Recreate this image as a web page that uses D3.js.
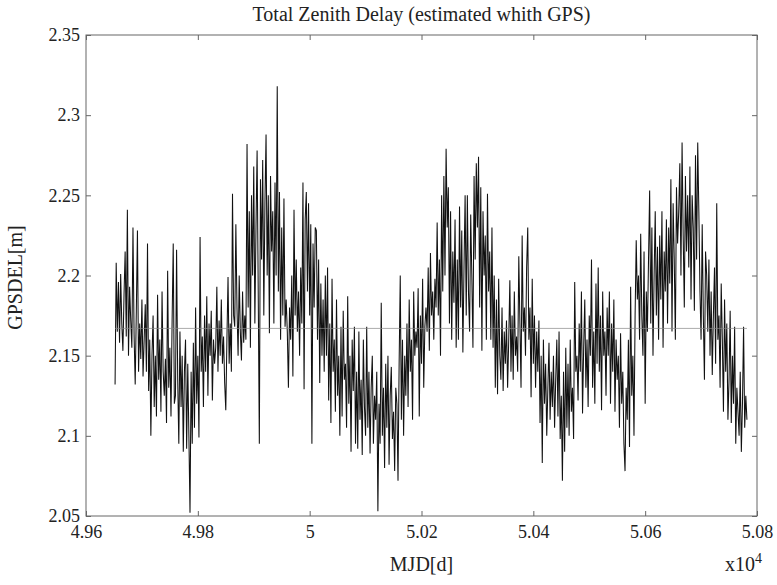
<!DOCTYPE html>
<html>
<head>
<meta charset="utf-8">
<script src="https://cdn.jsdelivr.net/npm/d3@7"></script>
<style>
  html, body { margin: 0; padding: 0; background: #fff; }
  svg { display: block; }
  text { font-family: "Liberation Serif", "DejaVu Serif", serif; fill: #222; }
</style>
</head>
<body>
<svg id="chart" width="777" height="585"></svg>
<script>
// ---- data ----
const mjdStart = 49652;   // first sample, MJD
const mjdStep = 2;        // days between samples
const gpsdel = [
  2.132,2.208,2.165,2.196,2.158,2.201,2.170,2.153,2.188,
  2.215,2.162,2.241,2.150,2.193,2.172,2.155,2.230,2.163,
  2.132,2.178,2.228,2.140,2.170,2.148,2.185,2.137,2.160,
  2.182,2.140,2.220,2.128,2.160,2.100,2.150,2.175,2.118,
  2.150,2.112,2.188,2.135,2.160,2.115,2.190,2.140,2.125,
  2.148,2.108,2.203,2.130,2.155,2.112,2.172,2.220,2.120,
  2.125,2.216,2.135,2.095,2.165,2.118,2.150,2.090,2.140,
  2.160,2.092,2.145,2.100,2.052,2.140,2.095,2.158,2.105,
  2.180,2.120,2.150,2.099,2.224,2.140,2.162,2.118,2.175,
  2.140,2.187,2.125,2.170,2.150,2.178,2.122,2.160,2.145,
  2.155,2.193,2.140,2.172,2.150,2.185,2.145,2.162,2.133,
  2.116,2.160,2.199,2.145,2.170,2.140,2.251,2.175,2.168,
  2.232,2.180,2.150,2.200,2.165,2.147,2.190,2.158,2.175,
  2.160,2.282,2.180,2.240,2.155,2.250,2.200,2.268,2.170,
  2.230,2.278,2.190,2.095,2.260,2.210,2.272,2.175,2.245,
  2.288,2.200,2.250,2.164,2.262,2.215,2.240,2.170,2.258,
  2.200,2.318,2.190,2.252,2.160,2.230,2.175,2.248,2.168,
  2.185,2.165,2.130,2.180,2.160,2.200,2.137,2.241,2.175,
  2.210,2.165,2.190,2.150,2.205,2.170,2.258,2.129,2.235,
  2.252,2.190,2.245,2.175,2.232,2.095,2.220,2.180,2.230,
  2.228,2.160,2.210,2.133,2.195,2.150,2.185,2.140,2.200,
  2.150,2.205,2.122,2.170,2.108,2.198,2.140,2.160,2.115,
  2.185,2.125,2.150,2.100,2.168,2.112,2.178,2.135,2.145,
  2.105,2.187,2.120,2.150,2.090,2.160,2.128,2.168,2.095,
  2.140,2.092,2.165,2.110,2.135,2.088,2.160,2.118,2.100,
  2.168,2.105,2.140,2.089,2.130,2.150,2.095,2.125,2.110,
  2.140,2.053,2.120,2.095,2.183,2.100,2.130,2.080,2.145,
  2.105,2.150,2.082,2.125,2.143,2.098,2.115,2.078,2.130,
  2.120,2.072,2.145,2.200,2.110,2.160,2.100,2.150,2.125,
  2.170,2.118,2.185,2.140,2.160,2.110,2.190,2.150,2.165,
  2.155,2.192,2.112,2.175,2.145,2.198,2.130,2.168,2.180,
  2.165,2.205,2.153,2.214,2.175,2.190,2.160,2.198,2.180,
  2.233,2.175,2.210,2.150,2.250,2.190,2.262,2.200,2.279,
  2.230,2.255,2.170,2.240,2.160,2.215,2.183,2.235,2.155,
  2.210,2.160,2.243,2.180,2.228,2.152,2.205,2.250,2.175,
  2.250,2.190,2.165,2.238,2.200,2.155,2.262,2.210,2.270,
  2.230,2.274,2.180,2.255,2.153,2.240,2.200,2.225,2.160,
  2.251,2.190,2.215,2.160,2.230,2.155,2.200,2.130,2.185,
  2.126,2.198,2.150,2.135,2.180,2.128,2.165,2.145,2.172,
  2.130,2.160,2.197,2.140,2.175,2.135,2.190,2.150,2.162,
  2.140,2.212,2.170,2.130,2.225,2.165,2.180,2.150,2.205,
  2.230,2.160,2.180,2.124,2.198,2.145,2.175,2.130,2.165,
  2.140,2.172,2.108,2.150,2.083,2.160,2.120,2.145,2.100,
  2.130,2.158,2.110,2.140,2.118,2.150,2.105,2.135,2.160,
  2.112,2.165,2.098,2.125,2.072,2.140,2.090,2.155,2.105,
  2.145,2.100,2.160,2.115,2.130,2.098,2.196,2.140,2.150,
  2.122,2.170,2.140,2.190,2.114,2.155,2.185,2.130,2.160,
  2.118,2.175,2.150,2.210,2.130,2.165,2.120,2.195,2.145,
  2.205,2.140,2.175,2.116,2.190,2.150,2.165,2.125,2.180,
  2.150,2.190,2.120,2.170,2.140,2.185,2.115,2.160,2.135,
  2.150,2.105,2.164,2.120,2.140,2.095,2.078,2.130,2.110,
  2.160,2.093,2.193,2.125,2.150,2.100,2.175,2.222,2.185,
  2.200,2.160,2.226,2.175,2.150,2.215,2.120,2.190,2.165,
  2.210,2.253,2.170,2.230,2.150,2.200,2.240,2.175,2.218,
  2.160,2.225,2.185,2.240,2.155,2.215,2.190,2.235,2.170,
  2.230,2.195,2.260,2.165,2.245,2.210,2.160,2.255,2.220,
  2.240,2.270,2.200,2.283,2.225,2.180,2.262,2.215,2.250,
  2.205,2.268,2.185,2.250,2.230,2.178,2.275,2.210,2.283,
  2.240,2.190,2.160,2.232,2.175,2.135,2.215,2.200,2.165,
  2.210,2.150,2.190,2.138,2.175,2.205,2.145,2.245,2.160,
  2.175,2.130,2.195,2.160,2.115,2.185,2.140,2.170,2.110,
  2.135,2.178,2.108,2.150,2.120,2.168,2.095,2.130,2.115,
  2.100,2.140,2.090,2.120,2.168,2.105,2.125,2.110
];
const meanValue = 2.167;
const xTickValues = [49600, 49800, 50000, 50200, 50400, 50600, 50800];
const xTickLabels = ["4.96", "4.98", "5", "5.02", "5.04", "5.06", "5.08"];
const yTickValues = [2.05, 2.1, 2.15, 2.2, 2.25, 2.3, 2.35];
const yTickLabels = ["2.05", "2.1", "2.15", "2.2", "2.25", "2.3", "2.35"];

const titleText = "Total Zenith Delay (estimated whith GPS)";
const xLabelText = "MJD[d]";
const yLabelText = "GPSDEL[m]";

// ---- layout ----
const plot = { left: 86, right: 757, top: 35, bottom: 516 };
const svg = d3.select("#chart");

const x = d3.scaleLinear().domain([49600, 50800]).range([plot.left, plot.right]);
const y = d3.scaleLinear().domain([2.05, 2.35]).range([plot.bottom, plot.top]);

const points = gpsdel.map((v, i) => ({ mjd: mjdStart + i * mjdStep, v }));

// data line
const line = d3.line().x(d => x(d.mjd)).y(d => y(d.v));
svg.append("path")
  .datum(points)
  .attr("fill", "none")
  .attr("stroke", "#111")
  .attr("stroke-width", 1.05)
  .attr("stroke-linejoin", "miter")
  .attr("d", line);

// mean line
const mjdExtent = d3.extent(points, d => d.mjd);
svg.append("line")
  .attr("x1", x(mjdExtent[0])).attr("x2", x(mjdExtent[1]))
  .attr("y1", y(meanValue)).attr("y2", y(meanValue))
  .attr("stroke", "#888").attr("stroke-width", 0.7);

// frame
svg.append("rect")
  .attr("x", plot.left).attr("y", plot.top)
  .attr("width", plot.right - plot.left).attr("height", plot.bottom - plot.top)
  .attr("fill", "none").attr("stroke", "#666").attr("stroke-width", 1);

const fmtX = (d) => xTickLabels[xTickValues.indexOf(d)];
const fmtY = (d) => yTickLabels[yTickValues.indexOf(d)];

function styleAxis(g) {
  g.select(".domain").remove();
  g.selectAll(".tick line").attr("stroke", "#666");
  g.selectAll(".tick text").style("font-size", "18px").attr("fill", "#222");
}

svg.append("g")
  .attr("transform", `translate(0,${plot.bottom})`)
  .call(d3.axisBottom(x).tickValues(xTickValues).tickFormat(fmtX).tickSizeInner(-5).tickSizeOuter(0).tickPadding(9))
  .call(styleAxis);
svg.append("g")
  .attr("transform", `translate(0,${plot.top})`)
  .call(d3.axisTop(x).tickValues(xTickValues).tickFormat("").tickSizeInner(-5).tickSizeOuter(0))
  .call(styleAxis);
svg.append("g")
  .attr("transform", `translate(${plot.left},0)`)
  .call(d3.axisLeft(y).tickValues(yTickValues).tickFormat(fmtY).tickSizeInner(-5).tickSizeOuter(0).tickPadding(6))
  .call(styleAxis);
svg.append("g")
  .attr("transform", `translate(${plot.right},0)`)
  .call(d3.axisRight(y).tickValues(yTickValues).tickFormat("").tickSizeInner(-5).tickSizeOuter(0))
  .call(styleAxis);

// texts
svg.append("text")
  .attr("x", (plot.left + plot.right) / 2).attr("y", 21)
  .attr("text-anchor", "middle").style("font-size", "20px")
  .text(titleText);

svg.append("text")
  .attr("x", (plot.left + plot.right) / 2).attr("y", 571)
  .attr("text-anchor", "middle").style("font-size", "20px")
  .text(xLabelText);

const exp = svg.append("text")
  .attr("x", 762).attr("y", 571)
  .attr("text-anchor", "end").style("font-size", "20px");
exp.append("tspan").text("x10");
exp.append("tspan").attr("dy", -8).style("font-size", "14px").text("4");

svg.append("text")
  .attr("transform", `translate(22,${(plot.top + plot.bottom) / 2 + 2}) rotate(-90)`)
  .attr("text-anchor", "middle").style("font-size", "20px")
  .text(yLabelText);
</script>
</body>
</html>
